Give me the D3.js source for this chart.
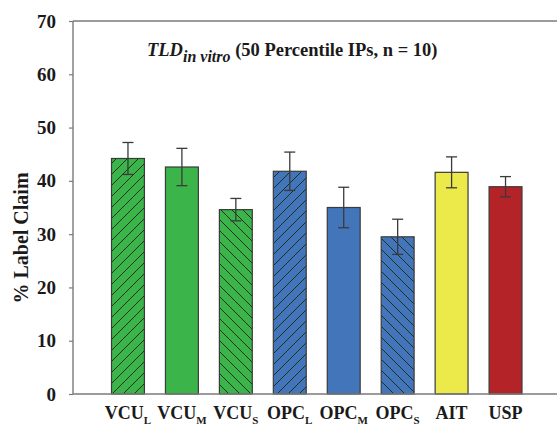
<!DOCTYPE html>
<html>
<head>
<meta charset="utf-8">
<script src="https://d3js.org/d3.v7.min.js"></script>
<style>
  body { margin: 0; background: #fff; }
  svg text { font-family: "Liberation Serif", "Times New Roman", serif; font-weight: bold; fill: #1a1a1a; }
</style>
</head>
<body>
<div id="chart"></div>
<script>
// data
const groups = ["VCU", "VCU", "VCU", "OPC", "OPC", "OPC", "AIT", "USP"];
const subs = ["L", "M", "S", "L", "M", "S", "", ""];
const means = [44.2, 42.6, 34.6, 41.8, 35.0, 29.5, 41.6, 38.9];
const errs = [3.0, 3.5, 2.1, 3.6, 3.8, 3.3, 2.9, 1.9];
const fills = ["#3bb54a", "#3bb54a", "#3bb54a", "#4375bb", "#4375bb", "#4375bb", "#ece94a", "#b42327"];
const hatch = ["fwd", "", "back", "fwd", "", "back", "", ""];
const yTicks = [0, 10, 20, 30, 40, 50, 60, 70];

const W = 557, H = 428;
const svg = d3.select("#chart").append("svg")
    .attr("width", W)
    .attr("height", H);

// hatch patterns
const defs = svg.append("defs");
function addHatch(id, color, dir) {
    let p = defs.append("pattern")
        .attr("id", id)
        .attr("patternUnits", "userSpaceOnUse")
        .attr("width", 11)
        .attr("height", 11);
    p.append("rect").attr("width", 11).attr("height", 11).attr("fill", color);
    let d = dir == "fwd"
        ? "M-1,1 L1,-1 M0,11 L11,0 M10,12 L12,10"
        : "M-1,10 L1,12 M0,0 L11,11 M10,-1 L12,1";
    p.append("path").attr("d", d).attr("stroke", "#1f2f22").attr("stroke-width", 1);
}
addHatch("h-green-fwd", fills[0], "fwd");
addHatch("h-green-back", fills[0], "back");
addHatch("h-blue-fwd", fills[3], "fwd");
addHatch("h-blue-back", fills[3], "back");

const plotLeft = 73, plotTop = 21, plotBottom = 394;

const x = d3.scaleBand()
    .domain(d3.range(means.length))
    .range([101, 532.5])
    .paddingInner(0.39)
    .paddingOuter(0.195);

const y = d3.scaleLinear()
    .domain([0, 70])
    .range([plotBottom, plotTop]);

// frame: top line
svg.append("line")
    .attr("x1", plotLeft).attr("x2", W)
    .attr("y1", plotTop).attr("y2", plotTop)
    .attr("stroke", "#7a7a7a").attr("stroke-width", 1.4);

// bars
svg.selectAll(".bar")
    .data(means)
    .enter()
    .append("rect")
    .attr("class", "bar")
    .attr("x", (d, i) => x(i))
    .attr("width", x.bandwidth())
    .attr("y", d => y(d))
    .attr("height", d => plotBottom - y(d))
    .attr("fill", (d, i) => {
        if (hatch[i] == "") return fills[i];
        let c = i < 3 ? "green" : "blue";
        return "url(#h-" + c + "-" + hatch[i] + ")";
    })
    .attr("stroke", "#3a3a3a")
    .attr("stroke-width", 1.2);

// error bars
const cap = 5.5;
means.forEach((m, i) => {
    let cx = x(i) + x.bandwidth() / 2;
    let g = svg.append("g")
        .attr("stroke", "#3a3a3a")
        .attr("stroke-width", 1.3);
    g.append("line").attr("x1", cx).attr("x2", cx)
        .attr("y1", y(m + errs[i])).attr("y2", y(m - errs[i]));
    g.append("line").attr("x1", cx - cap).attr("x2", cx + cap)
        .attr("y1", y(m + errs[i])).attr("y2", y(m + errs[i]));
    g.append("line").attr("x1", cx - cap).attr("x2", cx + cap)
        .attr("y1", y(m - errs[i])).attr("y2", y(m - errs[i]));
});

// y axis
const yAxis = d3.axisLeft(y)
    .tickValues(yTicks)
    .tickSize(4)
    .tickPadding(13);

const yg = svg.append("g")
    .attr("transform", "translate(" + plotLeft + ",0)")
    .call(yAxis);
yg.select(".domain").attr("stroke", "#7a7a7a").attr("stroke-width", 1.4)
    .attr("d", "M0," + plotTop + "V" + plotBottom);
yg.selectAll(".tick line").attr("stroke", "#7a7a7a").attr("stroke-width", 1.2);
yg.selectAll(".tick text")
    .attr("font-size", 19)
    .attr("font-family", "Liberation Serif")
    .attr("font-weight", "bold")
    .attr("fill", "#1a1a1a");

// x axis baseline
svg.append("line")
    .attr("x1", plotLeft).attr("x2", W)
    .attr("y1", plotBottom).attr("y2", plotBottom)
    .attr("stroke", "#7a7a7a").attr("stroke-width", 1.4);

// x labels with subscripts
const xl = svg.selectAll(".x-label")
    .data(groups)
    .enter()
    .append("text")
    .attr("class", "x-label")
    .attr("x", (d, i) => x(i) + x.bandwidth() / 2)
    .attr("y", 419)
    .attr("text-anchor", "middle")
    .attr("font-size", 18);
xl.append("tspan").text(d => d);
xl.append("tspan")
    .attr("font-size", 11)
    .attr("dy", 5)
    .text((d, i) => subs[i]);

// y axis label
svg.append("text")
    .attr("transform", "translate(28," + 238 + ") rotate(-90)")
    .attr("text-anchor", "middle")
    .attr("font-size", 20)
    .text("% Label Claim");

// title
const title = svg.append("text")
    .attr("x", 147)
    .attr("y", 56)
    .attr("font-size", 18.5);
title.append("tspan").attr("font-style", "italic").text("TLD");
title.append("tspan").attr("font-style", "italic").attr("font-size", 16).attr("dy", 6).text("in vitro");
title.append("tspan").attr("dy", -6).text(" (50 Percentile IPs, n = 10)");
</script>
</body>
</html>
